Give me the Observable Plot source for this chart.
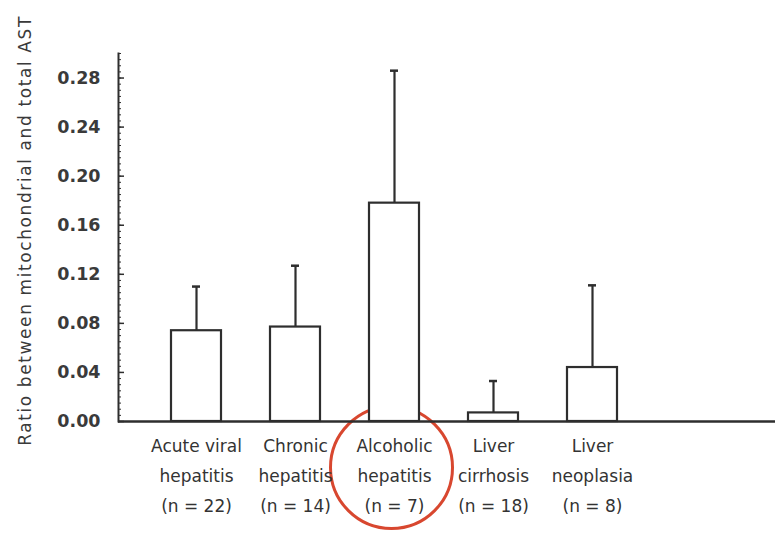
<!DOCTYPE html>
<html>
<head>
<meta charset="utf-8">
<script src="https://cdn.jsdelivr.net/npm/d3@7"></script>
<script src="https://cdn.jsdelivr.net/npm/@observablehq/plot@0.6"></script>
<style>
  html, body { margin: 0; padding: 0; background: #fff; }
  #chart { width: 775px; height: 533px; }
  svg text { font-family: "DejaVu Sans", sans-serif; }
  .ytitle text { letter-spacing: 1.6px; }
</style>
</head>
<body>
<div id="chart"></div>
<script>
// Data
const groups = ["Acute viral hepatitis", "Chronic hepatitis", "Alcoholic hepatitis", "Liver cirrhosis", "Liver neoplasia"];
const labelLine1 = ["Acute viral", "Chronic", "Alcoholic", "Liver", "Liver"];
const labelLine2 = ["hepatitis", "hepatitis", "hepatitis", "cirrhosis", "neoplasia"];
const labelLine3 = ["(n = 22)", "(n = 14)", "(n = 7)", "(n = 18)", "(n = 8)"];
const meanRatio = [0.074, 0.077, 0.178, 0.007, 0.044];
const errorTop = [0.110, 0.127, 0.286, 0.033, 0.111];
const yTicks = [0.00, 0.04, 0.08, 0.12, 0.16, 0.20, 0.24, 0.28];
const yMinorTicks = d3.range(0, 0.3001, 0.005);
const highlighted = ["Alcoholic hepatitis"];
const yTitle = "Ratio between mitochondrial and total AST";

const data = groups.map((g, i) => ({
  group: g,
  mean: meanRatio[i],
  hi: errorTop[i],
  label: labelLine1[i] + "\n" + labelLine2[i] + "\n" + labelLine3[i]
}));
const labelOf = new Map(data.map(d => [d.group, d.label]));

const W = 775, H = 533;
const ink = "#2e2e2e";

const chart = Plot.plot({
  width: W,
  height: H,
  marginLeft: 118,
  marginRight: 0,
  marginTop: 53,
  marginBottom: 112,
  style: {background: "#fff", color: ink, fontSize: "17px", fontFamily: "'DejaVu Sans', sans-serif"},
  x: {domain: groups, range: [120, 668], paddingInner: 0.5, paddingOuter: 0.5, axis: null},
  y: {domain: [0, 0.30], range: [421, 53], axis: null},
  marks: [
    // highlight circle around the third category label
    Plot.dot(highlighted, {x: d => d, y: () => 0, dx: -3, dy: 46, r: 61, stroke: "#d8472f", strokeWidth: 3, fill: "none"}),
    // bars
    Plot.barY(data, {x: "group", y: "mean", fill: "#fff", stroke: ink, strokeWidth: 2.2}),
    // error bars
    Plot.ruleX(data, {x: "group", y1: "mean", y2: "hi", stroke: ink, strokeWidth: 2.2}),
    Plot.tickY(data, {x: "group", y: "hi", stroke: ink, strokeWidth: 2.5, insetLeft: 21, insetRight: 21}),
    // axes lines
    Plot.frame({anchor: "left", stroke: ink, strokeWidth: 2}),
    Plot.ruleY([0], {stroke: ink, strokeWidth: 2.5}),
    // minor & major inward ticks
    Plot.ruleY(yMinorTicks, {stroke: ink, strokeWidth: 1, insetRight: W - 118 - 3}),
    Plot.ruleY(yTicks, {stroke: ink, strokeWidth: 1.5, insetRight: W - 118 - 6}),
    // y tick labels
    Plot.axisY(yTicks, {anchor: "left", tickSize: 0, tickPadding: 18, tickFormat: d3.format(".2f"), fontSize: 17.5, fontWeight: "bold", fill: "#3a3a3a", label: null}),
    // x category labels
    Plot.axisX({anchor: "bottom", tickSize: 0, tickPadding: 9, tickFormat: d => labelOf.get(d), lineHeight: 1.76, fontSize: 17, fill: "#333", label: null}),
    // y axis title
    Plot.text([yTitle], {frameAnchor: "left", textAnchor: "middle", dx: -93, dy: -7, rotate: -90, fontSize: 17, fill: "#3a3a3a", className: "ytitle"})
  ]
});
document.getElementById("chart").appendChild(chart);
</script>
</body>
</html>
